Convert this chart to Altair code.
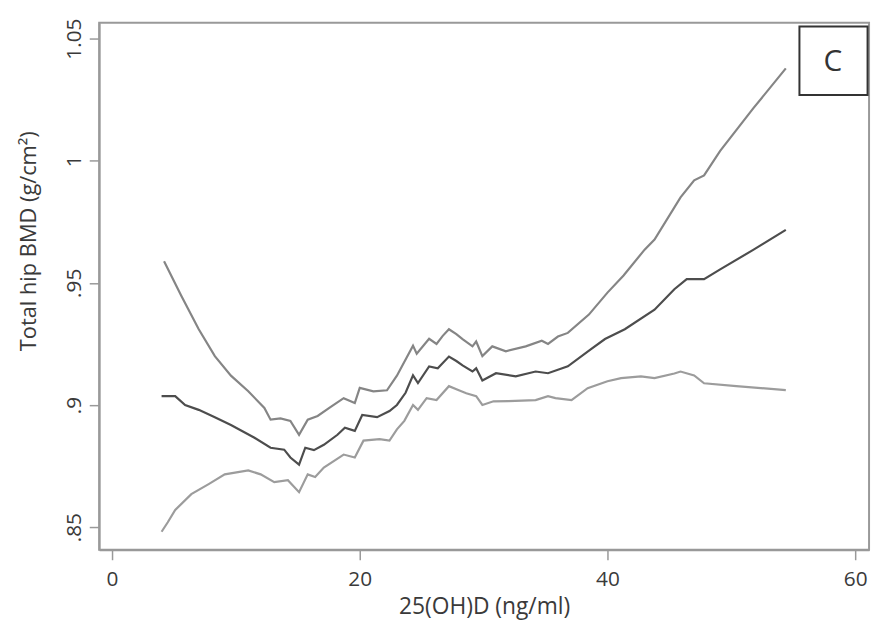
import altair as alt
import pandas as pd

upper_x = [4.2, 5.6, 7.0, 8.3, 9.6, 11.0, 12.3, 12.8, 13.6, 14.4, 15.1, 15.8, 16.6, 17.6, 18.7, 19.6, 20.0, 21.1, 22.2, 23.0,
           24.3, 24.6, 25.6, 26.2, 26.7, 27.2, 27.8, 28.3, 29.1, 29.4, 29.9, 30.7, 31.8, 33.4, 34.7, 35.2, 36.0, 36.8,
           38.5, 40.0, 41.3, 43.0, 43.8, 45.9, 47.0, 47.8, 49.1, 51.8, 54.4]
upper_y = [0.9588, 0.9446, 0.931, 0.920, 0.912, 0.9056, 0.8988, 0.894, 0.8945, 0.8935, 0.8878, 0.894, 0.8955, 0.899, 0.9028, 0.9008, 0.907, 0.9056, 0.906, 0.912,
           0.9243, 0.921, 0.9271, 0.925, 0.9283, 0.931, 0.929, 0.927, 0.924, 0.926, 0.920, 0.924, 0.922, 0.924, 0.9263, 0.925, 0.928, 0.9295,
           0.937, 0.946, 0.953, 0.9636, 0.9677, 0.985, 0.992, 0.994, 1.004, 1.0216, 1.0378]

mid_x = [4.0, 5.1, 5.9, 7.0, 8.3, 9.6, 11.5, 12.8, 13.9, 14.4, 15.1, 15.6, 16.3, 17.1, 18.2, 18.8, 19.6, 20.2, 21.4, 22.4, 23.0,
         23.7, 24.3, 24.7, 25.6, 26.3, 27.2, 27.8, 28.3, 29.1, 29.4, 29.9, 31.0, 32.6, 34.2, 35.2, 36.8, 38.7, 39.8, 41.4,
         43.8, 45.4, 46.4, 47.8, 49.1, 51.8, 54.4]
mid_y = [0.9036, 0.9036, 0.900, 0.898, 0.895, 0.8918, 0.8866, 0.8825, 0.8817, 0.8785, 0.8756, 0.8825, 0.8815, 0.8837, 0.8878, 0.8907, 0.8894, 0.8959, 0.895, 0.8975, 0.900,
         0.905, 0.9121, 0.909, 0.9158, 0.915, 0.9198, 0.918, 0.9162, 0.9137, 0.915, 0.910, 0.913, 0.9117, 0.9137, 0.913, 0.9158, 0.923, 0.927, 0.931,
         0.939, 0.9474, 0.9515, 0.9515, 0.9555, 0.9636, 0.9717]

low_x = [4.0, 4.5, 5.1, 6.4, 7.8, 9.1, 11.0, 12.0, 13.1, 14.2, 15.1, 15.8, 16.4, 17.1, 18.7, 19.6, 20.3, 21.6, 22.4, 23.0,
         23.6, 24.3, 24.7, 25.4, 26.2, 27.2, 28.0, 28.6, 29.4, 29.9, 30.8, 32.0, 34.2, 35.2, 35.8, 37.1, 38.4, 40.0, 41.1,
         42.7, 43.8, 45.4, 45.9, 47.0, 47.8, 50.4, 54.4]
low_y = [0.8481, 0.852, 0.857, 0.8635, 0.8676, 0.8716, 0.8732, 0.8716, 0.8684, 0.8692, 0.8643, 0.8716, 0.8705, 0.8744, 0.8797, 0.8785, 0.8854, 0.886, 0.8854, 0.890,
         0.8935, 0.900, 0.898, 0.9028, 0.902, 0.9077, 0.906, 0.9048, 0.9036, 0.900, 0.9015, 0.9016, 0.902, 0.9036, 0.9028, 0.902, 0.9069, 0.9097, 0.911,
         0.9117, 0.911, 0.9129, 0.9137, 0.9121, 0.9089, 0.9077, 0.9061]

x_ticks = [0, 20, 40, 60]
y_ticks = [0.85, 0.9, 0.95, 1.0, 1.05]

series_names = ["upper", "mid", "lower"]
series_colors = ["#858585", "#4d4d4d", "#9c9c9c"]

# panel label box (data coordinates)
label_text = ["C"]
label_box_x = [55.5, 61.0]
label_box_y = [1.0549, 1.0269]
label_pos = [58.2, 1.0405]

rows = []
for name, xs, ys in [("upper", upper_x, upper_y), ("mid", mid_x, mid_y), ("lower", low_x, low_y)]:
    for i, (a, b) in enumerate(zip(xs, ys)):
        rows.append({"series": name, "x": a, "y": b, "order": i})
df = pd.DataFrame(rows)

FONT = "Open Sans"
xscale = alt.Scale(domain=[-1.04, 61.12], nice=False, zero=False)
yscale = alt.Scale(domain=[0.8407, 1.0565], nice=False, zero=False)

lines = alt.Chart(df).mark_line(strokeWidth=2.2).encode(
    x=alt.X("x:Q", scale=xscale,
            axis=alt.Axis(title="25(OH)D (ng/ml)", values=x_ticks, grid=False, tickSize=10,
                          labelFontSize=21, titleFontSize=23, labelPadding=9,
                          labelColor="#3a3a3a", titleColor="#3a3a3a", tickColor="#999", domainColor="#999",
                          domainWidth=2, tickWidth=1.5, labelFont=FONT, titleFont=FONT, titleFontWeight="normal",
                          titleBaseline="middle", titleY=57)),
    y=alt.Y("y:Q", scale=yscale,
            axis=alt.Axis(title="Total hip BMD (g/cm²)", values=y_ticks, grid=False, tickSize=10,
                          labelExpr="datum.value < 1 ? slice(format(datum.value, '.2~f'), 1) : format(datum.value, '.2~f')",
                          labelAngle=270, labelFontSize=21, titleFontSize=22, labelPadding=5,
                          labelColor="#3a3a3a", titleColor="#3a3a3a", tickColor="#999", domainColor="#999",
                          domainWidth=2, tickWidth=1.5, labelFont=FONT, titleFont=FONT, titleFontWeight="normal",
                          titleBaseline="middle", titleX=-71, titleY=220)),
    color=alt.Color("series:N", scale=alt.Scale(domain=series_names, range=series_colors), legend=None),
    order="order:Q",
)

box_df = pd.DataFrame({"x": [label_box_x[0]], "x2": [label_box_x[1]], "y": [label_box_y[0]], "y2": [label_box_y[1]]})
box = alt.Chart(box_df).mark_rect(fill="white", stroke="#333", strokeWidth=2).encode(
    x=alt.X("x:Q", scale=xscale), x2="x2:Q", y=alt.Y("y:Q", scale=yscale), y2="y2:Q")

txt_df = pd.DataFrame({"x": [label_pos[0]], "y": [label_pos[1]], "t": label_text})
txt = alt.Chart(txt_df).mark_text(fontSize=30, font=FONT, color="#333", baseline="middle", align="center").encode(
    x=alt.X("x:Q", scale=xscale), y=alt.Y("y:Q", scale=yscale), text="t:N")

chart = alt.layer(lines, box, txt).properties(
    width=777, height=532,
    autosize=alt.AutoSizeParams(type="none"),
    padding={"left": 92, "top": 12, "right": 5, "bottom": 70},
).configure_view(stroke="#999", strokeWidth=2)

chart.save("out.html", embed_options={"renderer": "svg", "actions": False})
